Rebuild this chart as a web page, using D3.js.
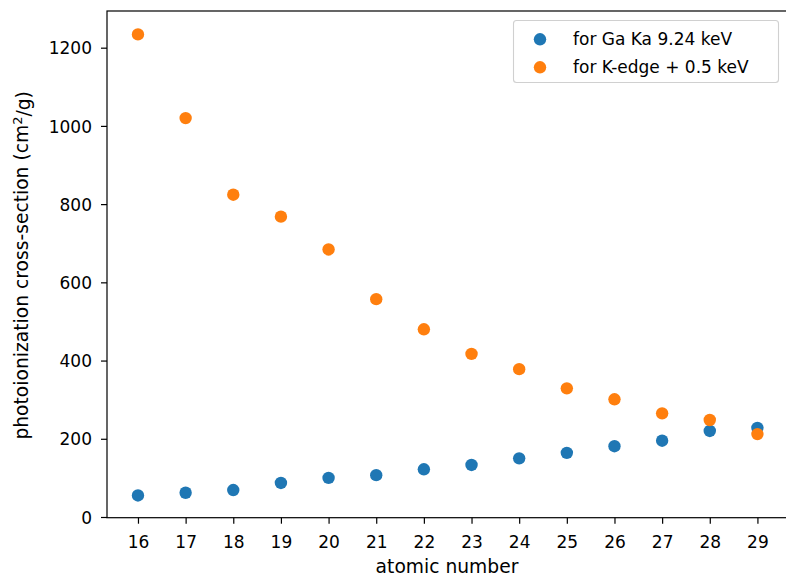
<!DOCTYPE html>
<html>
<head>
<meta charset="utf-8">
<script src="https://cdn.jsdelivr.net/npm/d3@7"></script>
<style>
  html, body { margin: 0; padding: 0; background: #fff; }
  svg { display: block; font-family: "DejaVu Sans", sans-serif; }
</style>
</head>
<body>
<svg id="chart" width="786" height="575"></svg>
<script>
const atomicNumbers = [16, 17, 18, 19, 20, 21, 22, 23, 24, 25, 26, 27, 28, 29];
const gaKa = [55, 62, 69, 87, 100, 107, 122, 133, 150, 164, 181, 195, 220, 228];
const kEdge = [1234, 1020, 824, 768, 684, 557, 480, 417, 378, 329, 301, 265, 248, 212];
const yTicks = [0, 200, 400, 600, 800, 1000, 1200];
const seriesNames = ["for Ga Ka 9.24 keV", "for K-edge + 0.5 keV"];
const seriesColors = ["#1f77b4", "#ff7f0e"];

(function () {
const svg = d3.select("#chart");
const pLeft = 107, pRight = 788.4, pTop = 11, pBottom = 517.7;

const x = d3.scaleLinear().domain([15.35, 29.65]).range([pLeft, pRight]);
const y = d3.scaleLinear().domain([-1.8, 1293.8]).range([pBottom, pTop]);

const fontSize = 17;
const labelSize = 18.7;

// markers
const series = [gaKa, kEdge];
series.forEach((vals, si) => {
  svg.append("g").selectAll("circle")
    .data(atomicNumbers.map((z, i) => ({z, v: vals[i]})))
    .join("circle")
    .attr("cx", d => x(d.z))
    .attr("cy", d => y(d.v))
    .attr("r", 6.2)
    .attr("fill", seriesColors[si]);
});

// axes
const xAxis = d3.axisBottom(x).tickValues(atomicNumbers).tickSize(6).tickPadding(6).tickFormat(d3.format("d"));
const yAxis = d3.axisLeft(y).tickValues(yTicks).tickSize(6).tickPadding(6).tickFormat(d3.format("d"));

const gx = svg.append("g").attr("transform", `translate(0,${pBottom})`).call(xAxis);
const gy = svg.append("g").attr("transform", `translate(${pLeft},0)`).call(yAxis);
[gx, gy].forEach(g => {
  g.select(".domain").remove();
  g.selectAll(".tick line").attr("stroke", "#000").attr("stroke-width", 1.2);
  g.selectAll(".tick text").attr("fill", "#000").style("font-size", fontSize + "px").style("font-family", "DejaVu Sans");
});
gx.selectAll(".tick text").attr("dy", null).attr("y", 30);
gy.selectAll(".tick text").attr("x", -15).attr("dy", "0.36em");

// spines
svg.append("rect")
  .attr("x", pLeft).attr("y", pTop)
  .attr("width", pRight - pLeft).attr("height", pBottom - pTop)
  .attr("fill", "none").attr("stroke", "#000").attr("stroke-width", 1.2);

// axis labels
svg.append("text")
  .attr("x", 447).attr("y", 572.5)
  .attr("text-anchor", "middle")
  .style("font-size", labelSize + "px")
  .text("atomic number");

const yl = svg.append("text")
  .attr("transform", `translate(27.5,${(pTop + pBottom) / 2 + 1}) rotate(-90)`)
  .attr("text-anchor", "middle")
  .style("font-size", labelSize + "px");
yl.append("tspan").text("photoionization cross-section (cm");
yl.append("tspan").attr("dy", "-0.45em").style("font-size", "13px").text("2");
yl.append("tspan").attr("dy", "0.45em").text("/g)");

// legend
const lg = svg.append("g");
lg.append("rect")
  .attr("x", 513.5).attr("y", 20.5).attr("width", 265).attr("height", 62)
  .attr("rx", 3).attr("fill", "#fff").attr("fill-opacity", 0.8)
  .attr("stroke", "#d0d0d0").attr("stroke-width", 1.1);
seriesNames.forEach((name, i) => {
  const cy = 39.3 + i * 28;
  lg.append("circle").attr("cx", 540).attr("cy", cy).attr("r", 6.2).attr("fill", seriesColors[i]);
  lg.append("text").attr("x", 573).attr("y", cy + 6)
    .style("font-size", fontSize + "px").text(name);
});
})();
</script>
</body>
</html>
